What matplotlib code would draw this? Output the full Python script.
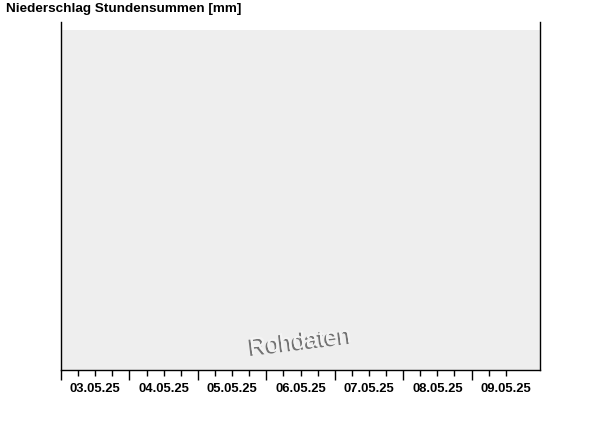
import matplotlib
matplotlib.use("Agg")
import matplotlib.pyplot as plt
import matplotlib.patheffects as pe
from matplotlib.patches import Rectangle
import matplotlib.dates as mdates
import datetime as dt

# Days shown on the time axis
days = ["03.05.25", "04.05.25", "05.05.25", "06.05.25", "07.05.25", "08.05.25", "09.05.25"]
# Hourly precipitation sums [mm] (no precipitation recorded in this period)
hours = []
precip_mm = []

title = "Niederschlag Stundensummen [mm]"
watermark = "Rohdaten"

start = dt.datetime(2025, 5, 3)
end = start + dt.timedelta(days=len(days))

plt.rcParams["font.family"] = ["Liberation Sans", "DejaVu Sans"]
fig = plt.figure(figsize=(6.0, 4.26), dpi=100)
ax = fig.add_axes([61 / 600, 1 - 370 / 426, (540 - 61) / 600, (370 - 22) / 426])

ax.set_xlim(mdates.date2num(start), mdates.date2num(end))
ax.set_ylim(0, 1)
ax.set_facecolor("white")

# grey plot area below the top margin
ax.add_patch(Rectangle((0, 0), 1, 340 / 348, transform=ax.transAxes,
                       facecolor="#eeeeee", edgecolor="none", zorder=0))

if hours:
    ax.bar(hours, precip_mm, width=1 / 24, color="#1f5fbf", zorder=2)

ax.spines["top"].set_visible(False)
for s in ["left", "right", "bottom"]:
    ax.spines[s].set_linewidth(1.0)
    ax.spines[s].set_color("black")

# major ticks at midnight, minor every 6 hours (last quarter of the final day left open)
major = [mdates.date2num(start + dt.timedelta(days=i)) for i in range(len(days))]
minor = [mdates.date2num(start + dt.timedelta(hours=6 * i))
         for i in range(len(days) * 4 - 1) if i % 4 != 0]
ax.set_xticks(major)
ax.set_xticks(minor, minor=True)
ax.tick_params(axis="x", which="major", length=7, width=1, labelbottom=False)
ax.tick_params(axis="x", which="minor", length=4, width=1)
ax.set_yticks([])

# date labels centred on each day
for i, d in enumerate(days):
    x = mdates.date2num(start + dt.timedelta(days=i, hours=12))
    ax.text(x, -0.0545, d, transform=ax.get_xaxis_transform(), ha="center", va="center",
            fontsize=9.4, fontweight="bold")

fig.text(6 / 600, 1 - 9 / 426, title, ha="left", va="center",
         fontsize=9.7, fontweight="bold")

ax.text(0.5, 0.08, watermark, transform=ax.transAxes, ha="center", va="center",
        fontsize=17, rotation=7, color="#f4f4f4",
        path_effects=[pe.withSimplePatchShadow(offset=(-1.3, -1.3), shadow_rgbFace="#666666", alpha=0.9),
                      pe.Normal()])

fig.savefig("out.png", dpi=100)
